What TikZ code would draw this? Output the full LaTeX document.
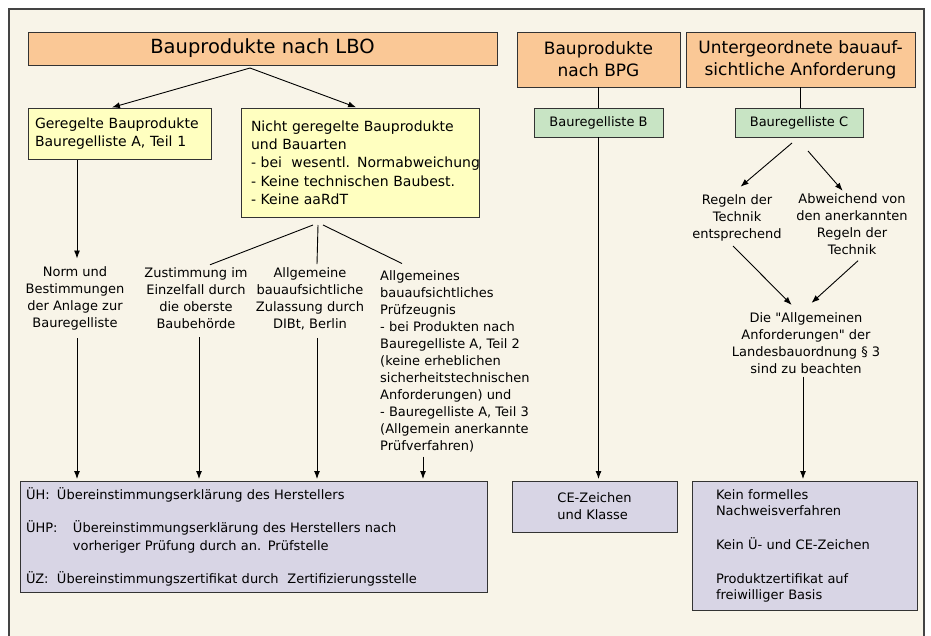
\documentclass[tikz,border=0pt]{standalone}
\usepackage{fontspec}
\setmainfont{DejaVu Sans}[Ligatures=TeXOff]
\usetikzlibrary{arrows.meta}
\definecolor{cream}{HTML}{F8F4E8}
\definecolor{orangebox}{HTML}{FAC896}
\definecolor{yellowbox}{HTML}{FFFFC0}
\definecolor{greenbox}{HTML}{C8E4C4}
\definecolor{lavbox}{HTML}{D8D5E5}
\definecolor{edgegray}{HTML}{333333}
\definecolor{framegray}{HTML}{444444}
\begin{document}
\begin{tikzpicture}[x=1pt,y=-1pt,
  box/.style={draw=edgegray, line width=0.9pt, anchor=north west, inner ysep=0pt, outer sep=0pt},
  cbox/.style={box, align=center, inner xsep=2pt},
  lbox/.style={box, align=left},
  txt/.style={inner sep=0pt, align=center, font=\fontsize{13}{17}\selectfont},
  arr/.style={line width=0.9pt, -{Latex[length=8pt,width=6pt]}, shorten >=2pt},
  ln/.style={line width=0.9pt}]
\useasboundingbox (0,0) rectangle (931,635);
\fill[white] (0,0) rectangle (931,635);
\draw[framegray, line width=1.3pt, fill=cream] (9,9) rectangle (924,650);

% top boxes
\node[cbox, fill=orangebox, minimum width=469pt, minimum height=33pt,
  font=\fontsize{19.5}{22}\selectfont] (lbo) at (28,32) {Bauprodukte nach LBO};
\node[cbox, fill=orangebox, minimum width=163pt, minimum height=55pt,
  font=\fontsize{17}{22}\selectfont] (bpg) at (517,32) {Bauprodukte\\nach BPG};
\node[cbox, fill=orangebox, minimum width=229pt, minimum height=55pt,
  font=\fontsize{17}{22}\selectfont] (unt) at (686,32) {Untergeordnete bauauf-\\sichtliche Anforderung};

% yellow boxes
\node[lbox, fill=yellowbox, inner xsep=7pt, text width=169pt, minimum height=51pt,
  font=\fontsize{14}{18}\selectfont] (ger) at (28,108)
  {Geregelte Bauprodukte\\Bauregelliste A, Teil 1};
\node[lbox, fill=yellowbox, inner xsep=10pt, text width=218pt, minimum height=109pt,
  font=\fontsize{14}{18.3}\selectfont] (nicht) at (241,108)
  {Nicht geregelte Bauprodukte\\und Bauarten\\\mbox{- bei~ wesentl. Normabweichung}\\- Keine technischen Baubest.\\- Keine aaRdT};

% green boxes
\node[cbox, fill=greenbox, minimum width=129pt, minimum height=29pt,
  font=\fontsize{13}{17}\selectfont] (lb) at (534,108) {Bauregelliste B};
\node[cbox, fill=greenbox, minimum width=128pt, minimum height=29pt,
  font=\fontsize{13}{17}\selectfont] (lc) at (735,108) {Bauregelliste C};

% text nodes
\node[txt] (norm) at (75,298.5) {Norm und\\Bestimmungen\\der Anlage zur\\Bauregelliste};
\node[txt] (zust) at (196,298.5) {Zustimmung im\\Einzelfall durch\\die oberste\\Baubehörde};
\node[txt] (allg) at (310,298.5) {Allgemeine\\bauaufsichtliche\\Zulassung durch\\DIBt, Berlin};
\node[txt, align=left, anchor=west] (allgs) at (380,361.5)
  {Allgemeines\\bauaufsichtliches\\Prüfzeugnis\\- bei Produkten nach\\Bauregelliste A, Teil 2\\(keine erheblichen\\sicherheitstechnischen\\Anforderungen) und\\- Bauregelliste A, Teil 3\\(Allgemein anerkannte\\Prüfverfahren)};
\node[txt] (regeln) at (737,217.5) {Regeln der\\Technik\\entsprechend};
\node[txt] (abw) at (852,224) {Abweichend von\\den anerkannten\\Regeln der\\Technik};
\node[txt] (die) at (806,343) {Die "Allgemeinen\\Anforderungen" der\\Landesbauordnung § 3\\sind zu beachten};

% bottom boxes
\node[lbox, fill=lavbox, inner xsep=6pt, text width=455pt, minimum height=111pt,
  font=\fontsize{13}{18}\selectfont] (uh) at (20,481)
  {\makebox[31pt][l]{ÜH:}Übereinstimmungserklärung des Herstellers\\[15pt]
   \makebox[47pt][l]{ÜHP:}Übereinstimmungserklärung des Herstellers nach\\
   \hspace*{47pt}vorheriger Prüfung durch an. Prüfstelle\\[15pt]
   \makebox[31pt][l]{ÜZ:}Übereinstimmungszertifikat durch~ Zertifizierungsstelle};
\node[box, align=left, fill=lavbox, minimum width=165pt, minimum height=51pt,
  font=\fontsize{13}{17}\selectfont] (ce) at (512,481) {CE-Zeichen\\und Klasse};
\node[lbox, fill=lavbox, inner xsep=24pt, text width=177pt, minimum height=129pt,
  font=\fontsize{13}{16}\selectfont] (kein) at (692,481)
  {Kein formelles\\Nachweisverfahren\\[18pt]Kein Ü- und CE-Zeichen\\[18pt]Produktzertifikat auf\\freiwilliger Basis};

% connectors left
\draw[arr] ([xshift=-12.5pt,yshift=-3pt]lbo.south) -- ([xshift=-9.5pt]ger.north);
\draw[arr] ([xshift=-12.5pt,yshift=-3pt]lbo.south) -- ([xshift=-2pt]nicht.north);
\draw[arr] ([xshift=-42.5pt,yshift=-1pt]ger.south) -- ([xshift=2pt,yshift=6pt]norm.north);
\draw[ln] ([xshift=-47pt,yshift=-8pt]nicht.south) -- ([xshift=14pt,yshift=3pt]zust.north);
\draw[ln] ([xshift=-42pt,yshift=-8pt]nicht.south) -- ([xshift=7pt,yshift=3pt]allg.north);
\draw[ln] ([xshift=-37pt,yshift=-8pt]nicht.south) -- ([xshift=22pt,yshift=7pt]allgs.north west);
\draw[arr] ([xshift=2pt,yshift=-8pt]norm.south) -- ([xshift=2pt]norm.south |- uh.north);
\draw[arr] ([xshift=3pt,yshift=-8pt]zust.south) -- ([xshift=3pt]zust.south |- uh.north);
\draw[arr] ([xshift=7pt,yshift=-8pt]allg.south) -- ([xshift=7pt]allg.south |- uh.north);
\draw[arr] ([xshift=43pt,yshift=-4pt]allgs.south west) -- ([xshift=43pt]allgs.south west |- uh.north);

% connectors right
\draw[ln] (bpg.south) -- (bpg.south |- lb.north);
\draw[arr] (lb.south) -- (lb.south |- ce.north);
\draw[ln] (unt.south) -- (unt.south |- lc.north);
\draw[arr] ([xshift=-7pt,yshift=-6pt]lc.south) -- ([xshift=2pt,yshift=6pt]regeln.north);
\draw[arr] ([xshift=9pt,yshift=-14pt]lc.south) -- ([xshift=-8pt,yshift=1pt]abw.north);
\draw[arr] ([xshift=-4pt,yshift=-5pt]regeln.south) -- ([xshift=-13pt,yshift=6pt]die.north);
\draw[arr] ([xshift=6pt,yshift=-6pt]abw.south) -- ([xshift=4pt,yshift=8pt]die.north);
\draw[arr] ([xshift=-3pt,yshift=-3pt]die.south) -- ([xshift=-3pt]die.south |- kein.north);
\end{tikzpicture}
\end{document}
